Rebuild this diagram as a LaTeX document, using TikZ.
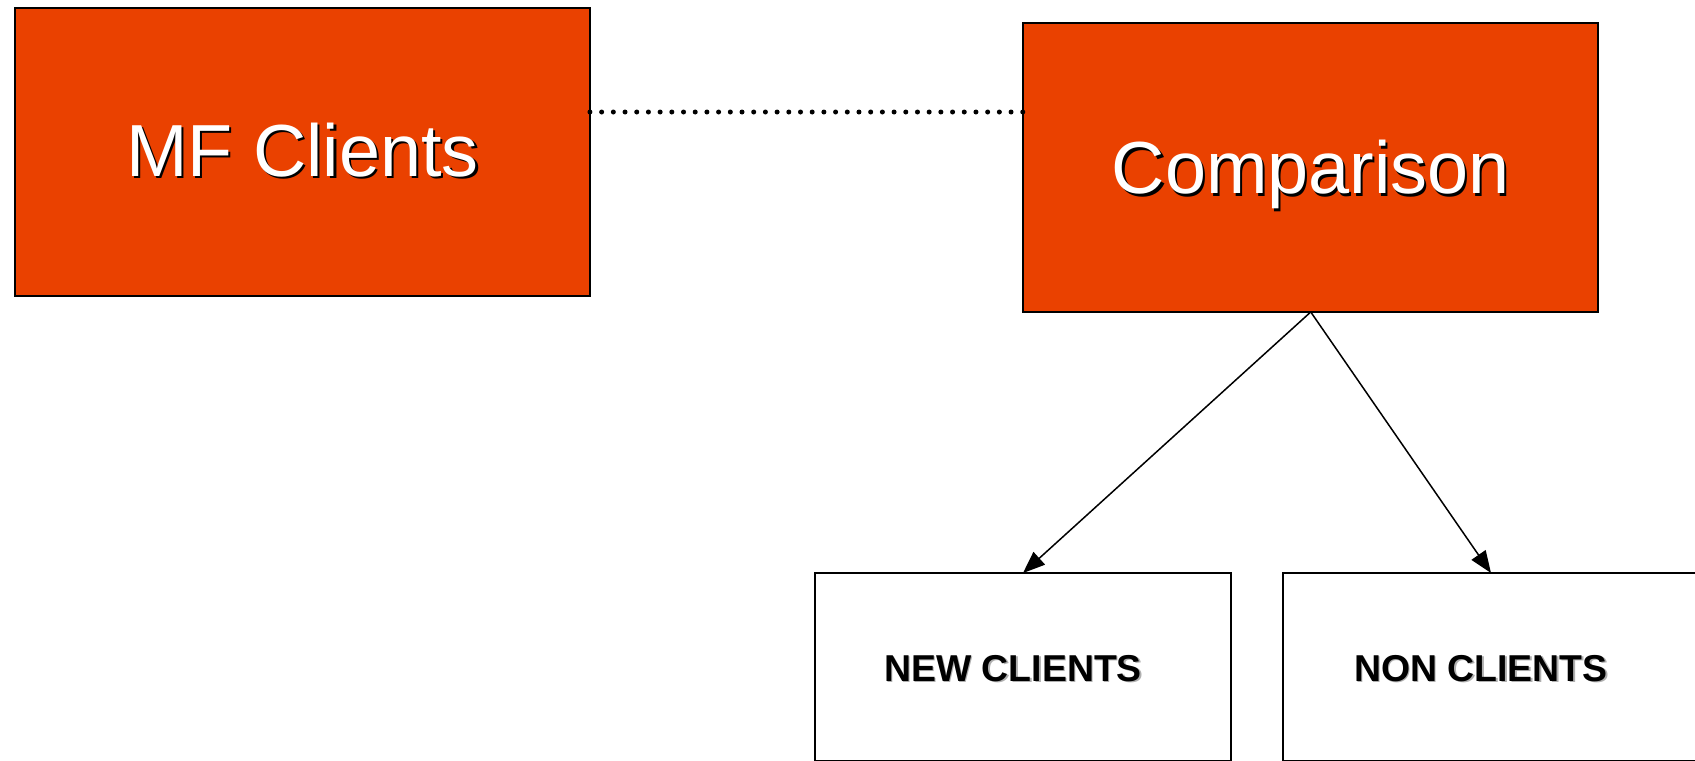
\documentclass[tikz,border=0pt]{standalone}
\usepackage{fontspec}
\setmainfont{Liberation Sans}
\usetikzlibrary{arrows.meta}
\definecolor{boxorange}{RGB}{234,65,0}
\definecolor{softshadow}{RGB}{175,175,175}

% text with a small drop shadow behind it
\newcommand{\castshadow}[4]{%
  \leavevmode\rlap{\raisebox{-#2}[0pt][0pt]{\hspace*{#2}\textcolor{#1}{#4}}}\textcolor{#3}{#4}}

\begin{document}
\begin{tikzpicture}[x=0.02cm,y=-0.02cm,
  orangebox/.style={draw=black, line width=0.04cm, fill=boxorange,
    minimum width=11.5cm, minimum height=5.77cm, inner sep=0pt, outer sep=0pt},
  whitebox/.style={draw=black, line width=0.04cm, fill=white,
    minimum width=8.32cm, minimum height=3.76cm, inner sep=0pt, outer sep=0pt},
  bigtitle/.style={font=\fontsize{42pt}{48pt}\selectfont, anchor=base, inner sep=0pt},
  smalltitle/.style={font=\fontsize{21.3pt}{25pt}\selectfont\bfseries, anchor=base, inner sep=0pt},
  dotline/.style={line width=0.1cm, line cap=round, dash pattern=on 0pt off 0.234cm},
  arrowline/.style={line width=0.03cm, -{Triangle[length=0.44cm,width=0.34cm]}}
]
\useasboundingbox (0,0) rectangle (1695,761);

% upper boxes
\node[orangebox] (mf) at (302.5,151.75) {};
\node[bigtitle] (mflab) at ([yshift=-0.5cm]mf.center) {\castshadow{black}{0.045cm}{white}{MF Clients}};
\node[orangebox, minimum width=11.51cm, minimum height=5.78cm] (cmp) at (1310.75,167.5) {};
\node[bigtitle] (cmplab) at ([yshift=-0.53cm]cmp.center) {\castshadow{black}{0.045cm}{white}{Comparison}};

% lower boxes
\node[whitebox] (new) at (1023,667) {};
\node[smalltitle] (newlab) at ([xshift=-0.2cm,yshift=-0.28cm]new.center) {\castshadow{softshadow}{0.03cm}{black}{NEW CLIENTS}};
\node[whitebox] (non) at (1491,667) {};
\node[smalltitle] (nonlab) at ([xshift=-0.2cm,yshift=-0.28cm]non.center) {\castshadow{softshadow}{0.03cm}{black}{NON CLIENTS}};

% connectors
\coordinate (dotrow) at (0,112);
\draw[dotline] (mf.east |- dotrow) -- (cmp.west |- dotrow);
\draw[arrowline] (cmp.south) -- (new.north);
\draw[arrowline] (cmp.south) -- (non.north);
\end{tikzpicture}
\end{document}
